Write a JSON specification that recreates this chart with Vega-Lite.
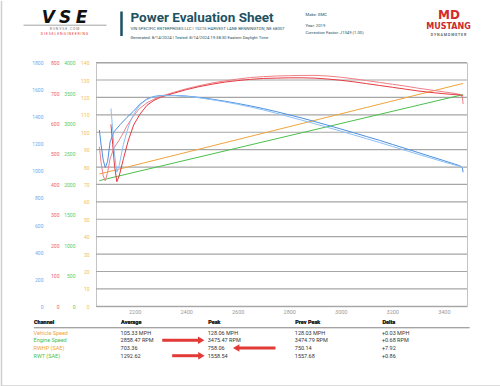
{
  "$schema": "https://vega.github.io/schema/vega-lite/v6.json",
  "padding": 0,
  "background": "white",
  "bounds": "flush",
  "spacing": 20.6,
  "config": {"font": "Roboto", "view": {"stroke": null}},
  "datasets": {
    "gridlines": [{"mph": 0}, {"mph": 10}, {"mph": 20}, {"mph": 30}, {"mph": 40}, {"mph": 50}, {"mph": 60}, {"mph": 70}, {"mph": 80}, {"mph": 90}, {"mph": 100}, {"mph": 110}, {"mph": 120}, {"mph": 130}, {"mph": 140}],
    "curves": [
      {"series": "Vehicle Speed", "rpm": 2063, "value": 76.0},
      {"series": "Vehicle Speed", "rpm": 3475, "value": 128.06},
      {"series": "Engine Speed", "rpm": 2063, "value": 2063},
      {"series": "Engine Speed", "rpm": 3475, "value": 3475},

      {"series": "RWHP", "rpm": 2063, "value": 524},
      {"series": "RWHP", "rpm": 2070, "value": 470},
      {"series": "RWHP", "rpm": 2078, "value": 428},
      {"series": "RWHP", "rpm": 2086, "value": 412},
      {"series": "RWHP", "rpm": 2095, "value": 440},
      {"series": "RWHP", "rpm": 2105, "value": 486},
      {"series": "RWHP", "rpm": 2120, "value": 520},
      {"series": "RWHP", "rpm": 2144, "value": 551},
      {"series": "RWHP", "rpm": 2170, "value": 592},
      {"series": "RWHP", "rpm": 2196, "value": 626},
      {"series": "RWHP", "rpm": 2220, "value": 650},
      {"series": "RWHP", "rpm": 2248, "value": 668},
      {"series": "RWHP", "rpm": 2275, "value": 680},
      {"series": "RWHP", "rpm": 2300, "value": 689},
      {"series": "RWHP", "rpm": 2350, "value": 702},
      {"series": "RWHP", "rpm": 2400, "value": 714},
      {"series": "RWHP", "rpm": 2450, "value": 724},
      {"series": "RWHP", "rpm": 2500, "value": 733},
      {"series": "RWHP", "rpm": 2550, "value": 740},
      {"series": "RWHP", "rpm": 2600, "value": 746},
      {"series": "RWHP", "rpm": 2650, "value": 751},
      {"series": "RWHP", "rpm": 2700, "value": 754},
      {"series": "RWHP", "rpm": 2750, "value": 756},
      {"series": "RWHP", "rpm": 2800, "value": 757},
      {"series": "RWHP", "rpm": 2850, "value": 758},
      {"series": "RWHP", "rpm": 2900, "value": 758},
      {"series": "RWHP", "rpm": 2950, "value": 756},
      {"series": "RWHP", "rpm": 3000, "value": 752},
      {"series": "RWHP", "rpm": 3050, "value": 747},
      {"series": "RWHP", "rpm": 3100, "value": 741},
      {"series": "RWHP", "rpm": 3150, "value": 735},
      {"series": "RWHP", "rpm": 3200, "value": 729},
      {"series": "RWHP", "rpm": 3250, "value": 723},
      {"series": "RWHP", "rpm": 3300, "value": 716},
      {"series": "RWHP", "rpm": 3350, "value": 710},
      {"series": "RWHP", "rpm": 3400, "value": 704},
      {"series": "RWHP", "rpm": 3440, "value": 699},
      {"series": "RWHP", "rpm": 3465, "value": 695},
      {"series": "RWHP", "rpm": 3472, "value": 686},
      {"series": "RWHP", "rpm": 3475, "value": 664},

      {"series": "RWHP prev", "rpm": 2108, "value": 597},
      {"series": "RWHP prev", "rpm": 2115, "value": 530},
      {"series": "RWHP prev", "rpm": 2122, "value": 460},
      {"series": "RWHP prev", "rpm": 2131, "value": 409},
      {"series": "RWHP prev", "rpm": 2140, "value": 428},
      {"series": "RWHP prev", "rpm": 2157, "value": 486},
      {"series": "RWHP prev", "rpm": 2175, "value": 543},
      {"series": "RWHP prev", "rpm": 2196, "value": 595},
      {"series": "RWHP prev", "rpm": 2220, "value": 630},
      {"series": "RWHP prev", "rpm": 2248, "value": 660},
      {"series": "RWHP prev", "rpm": 2275, "value": 676},
      {"series": "RWHP prev", "rpm": 2300, "value": 686},
      {"series": "RWHP prev", "rpm": 2350, "value": 699},
      {"series": "RWHP prev", "rpm": 2400, "value": 711},
      {"series": "RWHP prev", "rpm": 2450, "value": 721},
      {"series": "RWHP prev", "rpm": 2500, "value": 729},
      {"series": "RWHP prev", "rpm": 2550, "value": 736},
      {"series": "RWHP prev", "rpm": 2600, "value": 741},
      {"series": "RWHP prev", "rpm": 2650, "value": 745},
      {"series": "RWHP prev", "rpm": 2700, "value": 748},
      {"series": "RWHP prev", "rpm": 2750, "value": 749},
      {"series": "RWHP prev", "rpm": 2800, "value": 750},
      {"series": "RWHP prev", "rpm": 2850, "value": 750},
      {"series": "RWHP prev", "rpm": 2900, "value": 749},
      {"series": "RWHP prev", "rpm": 2950, "value": 746},
      {"series": "RWHP prev", "rpm": 3000, "value": 742},
      {"series": "RWHP prev", "rpm": 3050, "value": 737},
      {"series": "RWHP prev", "rpm": 3100, "value": 731},
      {"series": "RWHP prev", "rpm": 3150, "value": 725},
      {"series": "RWHP prev", "rpm": 3200, "value": 719},
      {"series": "RWHP prev", "rpm": 3250, "value": 713},
      {"series": "RWHP prev", "rpm": 3300, "value": 707},
      {"series": "RWHP prev", "rpm": 3350, "value": 702},
      {"series": "RWHP prev", "rpm": 3400, "value": 698},
      {"series": "RWHP prev", "rpm": 3440, "value": 695},
      {"series": "RWHP prev", "rpm": 3465, "value": 694},
      {"series": "RWHP prev", "rpm": 3475, "value": 690},

      {"series": "RWT", "rpm": 2063, "value": 1303},
      {"series": "RWT", "rpm": 2070, "value": 1190},
      {"series": "RWT", "rpm": 2078, "value": 1080},
      {"series": "RWT", "rpm": 2086, "value": 1024},
      {"series": "RWT", "rpm": 2095, "value": 1070},
      {"series": "RWT", "rpm": 2105, "value": 1216},
      {"series": "RWT", "rpm": 2120, "value": 1290},
      {"series": "RWT", "rpm": 2144, "value": 1342},
      {"series": "RWT", "rpm": 2170, "value": 1395},
      {"series": "RWT", "rpm": 2195, "value": 1440},
      {"series": "RWT", "rpm": 2220, "value": 1492},
      {"series": "RWT", "rpm": 2248, "value": 1532},
      {"series": "RWT", "rpm": 2275, "value": 1550},
      {"series": "RWT", "rpm": 2300, "value": 1557},
      {"series": "RWT", "rpm": 2350, "value": 1558},
      {"series": "RWT", "rpm": 2400, "value": 1553},
      {"series": "RWT", "rpm": 2450, "value": 1543},
      {"series": "RWT", "rpm": 2500, "value": 1530},
      {"series": "RWT", "rpm": 2550, "value": 1515},
      {"series": "RWT", "rpm": 2600, "value": 1498},
      {"series": "RWT", "rpm": 2650, "value": 1480},
      {"series": "RWT", "rpm": 2700, "value": 1460},
      {"series": "RWT", "rpm": 2750, "value": 1438},
      {"series": "RWT", "rpm": 2800, "value": 1414},
      {"series": "RWT", "rpm": 2850, "value": 1390},
      {"series": "RWT", "rpm": 2900, "value": 1364},
      {"series": "RWT", "rpm": 2950, "value": 1337},
      {"series": "RWT", "rpm": 3000, "value": 1310},
      {"series": "RWT", "rpm": 3050, "value": 1282},
      {"series": "RWT", "rpm": 3100, "value": 1254},
      {"series": "RWT", "rpm": 3150, "value": 1226},
      {"series": "RWT", "rpm": 3200, "value": 1196},
      {"series": "RWT", "rpm": 3250, "value": 1166},
      {"series": "RWT", "rpm": 3300, "value": 1136},
      {"series": "RWT", "rpm": 3350, "value": 1106},
      {"series": "RWT", "rpm": 3400, "value": 1076},
      {"series": "RWT", "rpm": 3440, "value": 1052},
      {"series": "RWT", "rpm": 3465, "value": 1036},
      {"series": "RWT", "rpm": 3472, "value": 1020},
      {"series": "RWT", "rpm": 3475, "value": 990},

      {"series": "RWT prev", "rpm": 2108, "value": 1462},
      {"series": "RWT prev", "rpm": 2115, "value": 1300},
      {"series": "RWT prev", "rpm": 2122, "value": 1120},
      {"series": "RWT prev", "rpm": 2131, "value": 990},
      {"series": "RWT prev", "rpm": 2140, "value": 1040},
      {"series": "RWT prev", "rpm": 2156, "value": 1194},
      {"series": "RWT prev", "rpm": 2170, "value": 1290},
      {"series": "RWT prev", "rpm": 2183, "value": 1364},
      {"series": "RWT prev", "rpm": 2200, "value": 1430},
      {"series": "RWT prev", "rpm": 2222, "value": 1490},
      {"series": "RWT prev", "rpm": 2245, "value": 1525},
      {"series": "RWT prev", "rpm": 2267, "value": 1544},
      {"series": "RWT prev", "rpm": 2300, "value": 1555},
      {"series": "RWT prev", "rpm": 2350, "value": 1557},
      {"series": "RWT prev", "rpm": 2400, "value": 1551},
      {"series": "RWT prev", "rpm": 2450, "value": 1540},
      {"series": "RWT prev", "rpm": 2500, "value": 1526},
      {"series": "RWT prev", "rpm": 2550, "value": 1510},
      {"series": "RWT prev", "rpm": 2600, "value": 1492},
      {"series": "RWT prev", "rpm": 2650, "value": 1472},
      {"series": "RWT prev", "rpm": 2700, "value": 1450},
      {"series": "RWT prev", "rpm": 2750, "value": 1426},
      {"series": "RWT prev", "rpm": 2800, "value": 1400},
      {"series": "RWT prev", "rpm": 2850, "value": 1374},
      {"series": "RWT prev", "rpm": 2900, "value": 1348},
      {"series": "RWT prev", "rpm": 2950, "value": 1321},
      {"series": "RWT prev", "rpm": 3000, "value": 1294},
      {"series": "RWT prev", "rpm": 3050, "value": 1266},
      {"series": "RWT prev", "rpm": 3100, "value": 1238},
      {"series": "RWT prev", "rpm": 3150, "value": 1210},
      {"series": "RWT prev", "rpm": 3200, "value": 1181},
      {"series": "RWT prev", "rpm": 3250, "value": 1152},
      {"series": "RWT prev", "rpm": 3300, "value": 1123},
      {"series": "RWT prev", "rpm": 3350, "value": 1095},
      {"series": "RWT prev", "rpm": 3400, "value": 1066},
      {"series": "RWT prev", "rpm": 3440, "value": 1045},
      {"series": "RWT prev", "rpm": 3465, "value": 1032},
      {"series": "RWT prev", "rpm": 3475, "value": 1022}
    ],
    "table": [
      {"channel": "Vehicle Speed", "Average": "105.33 MPH", "Peak": "128.06 MPH", "Prev Peak": "128.03 MPH", "Delta": "+0.03 MPH"},
      {"channel": "Engine Speed", "Average": "2858.47 RPM", "Peak": "3475.47 RPM", "Prev Peak": "3474.79 RPM", "Delta": "+0.68 RPM"},
      {"channel": "RWHP (SAE)", "Average": "703.36", "Peak": "758.06", "Prev Peak": "750.14", "Delta": "+7.92"},
      {"channel": "RWT (SAE)", "Average": "1292.62", "Peak": "1558.54", "Prev Peak": "1557.68", "Delta": "+0.86"}
    ],
    "arrows": [
      {"channel": "Engine Speed", "tail": 1.478, "tip": 1.925, "dir": "right"},
      {"channel": "RWHP (SAE)", "tail": 2.778, "tip": 2.327, "dir": "left"},
      {"channel": "RWT (SAE)", "tail": 1.592, "tip": 1.928, "dir": "right"}
    ]
  },
  "vconcat": [
    {
      "width": 371,
      "height": 40.4,
      "view": {"stroke": null},
      "layer": [
        {"data": {"values": [{}]}, "mark": {"type": "rule", "color": "#cfcfcf", "strokeWidth": 1.5},
         "encoding": {"x": {"datum": 1, "type": "quantitative", "scale": {"domain": [0, 500], "range": [-95.5, 404.5]}, "axis": null},
                      "y": {"datum": 0, "type": "quantitative", "scale": {"domain": [0, 40.4], "range": [0, 40.4]}, "axis": null},
                      "y2": {"datum": 386}}},
        {"data": {"values": [{}]}, "mark": {"type": "rule", "color": "#cfcfcf", "strokeWidth": 1.5},
         "encoding": {"x": {"datum": 1, "type": "quantitative", "scale": {"domain": [0, 500], "range": [-95.5, 404.5]}, "axis": null},
                      "x2": {"datum": 500},
                      "y": {"datum": 385, "type": "quantitative", "scale": {"domain": [0, 40.4], "range": [0, 40.4]}, "axis": null}}},
        {"data": {"values": [{"t": "V"}, {"t": "S"}, {"t": "E"}]},
         "mark": {"type": "text", "fontSize": 17, "fontWeight": "bold", "fontStyle": "italic", "font": "DejaVu Sans", "color": "#111111", "baseline": "bottom", "align": "center"},
         "encoding": {"text": {"field": "t"},
                      "x": {"field": "t", "type": "nominal", "scale": {"type": "point", "domain": ["V", "S", "E"], "range": [-56, -6]}, "axis": null},
                      "y": {"datum": 26.2, "type": "quantitative", "scale": {"domain": [0, 40.4], "range": [0, 40.4]}, "axis": null}}},
        {"data": {"values": [{}]}, "mark": {"type": "rule", "color": "#8a8a8a", "strokeWidth": 0.8},
         "encoding": {"x": {"datum": 23, "type": "quantitative", "scale": {"domain": [0, 500], "range": [-95.5, 404.5]}, "axis": null},
                      "x2": {"datum": 106},
                      "y": {"datum": 24.2, "type": "quantitative", "scale": {"domain": [0, 40.4], "range": [0, 40.4]}, "axis": null}}},
        {"data": {"values": [{"t": "R U N V S E . C O M"}]},
         "mark": {"type": "text", "fontSize": 3.5, "color": "#777777", "baseline": "middle", "align": "center"},
         "encoding": {"text": {"field": "t"},
                      "x": {"datum": 64, "type": "quantitative", "scale": {"domain": [0, 500], "range": [-95.5, 404.5]}, "axis": null},
                      "y": {"datum": 28.3, "type": "quantitative", "scale": {"domain": [0, 40.4], "range": [0, 40.4]}, "axis": null}}},
        {"data": {"values": [{"t": "D I E S E L   E N G I N E E R I N G"}]},
         "mark": {"type": "text", "fontSize": 3.5, "color": "#e8403a", "baseline": "middle", "align": "center"},
         "encoding": {"text": {"field": "t"},
                      "x": {"datum": 64, "type": "quantitative", "scale": {"domain": [0, 500], "range": [-95.5, 404.5]}, "axis": null},
                      "y": {"datum": 32.6, "type": "quantitative", "scale": {"domain": [0, 40.4], "range": [0, 40.4]}, "axis": null}}},
        {"data": {"values": [{}]}, "mark": {"type": "rule", "color": "#1d5262", "strokeWidth": 2.5},
         "encoding": {"x": {"datum": 121, "type": "quantitative", "scale": {"domain": [0, 500], "range": [-95.5, 404.5]}, "axis": null},
                      "y": {"datum": 10.5, "type": "quantitative", "scale": {"domain": [0, 40.4], "range": [0, 40.4]}, "axis": null},
                      "y2": {"datum": 35}}},
        {"data": {"values": [{"t": "Power Evaluation Sheet"}]},
         "mark": {"type": "text", "fontSize": 13.5, "fontWeight": "bold", "color": "#1d5262", "baseline": "alphabetic", "align": "left"},
         "encoding": {"text": {"field": "t"},
                      "x": {"datum": 130, "type": "quantitative", "scale": {"domain": [0, 500], "range": [-95.5, 404.5]}, "axis": null},
                      "y": {"datum": 20.8, "type": "quantitative", "scale": {"domain": [0, 40.4], "range": [0, 40.4]}, "axis": null}}},
        {"data": {"values": [{"t": "VIN SPECIFIC ENTERPRISES LLC | 15215 HARVEST LANE BENNINGTON, NE 68007"}]},
         "mark": {"type": "text", "fontSize": 4.2, "color": "#1d5262", "baseline": "middle", "align": "left"},
         "encoding": {"text": {"field": "t"},
                      "x": {"datum": 130, "type": "quantitative", "scale": {"domain": [0, 500], "range": [-95.5, 404.5]}, "axis": null},
                      "y": {"datum": 28.3, "type": "quantitative", "scale": {"domain": [0, 40.4], "range": [0, 40.4]}, "axis": null}}},
        {"data": {"values": [{"t": "Generated: 8/14/2024 | Tested: 8/14/2024 19:38:30 Eastern Daylight Time"}]},
         "mark": {"type": "text", "fontSize": 4.2, "color": "#1d5262", "baseline": "middle", "align": "left"},
         "encoding": {"text": {"field": "t"},
                      "x": {"datum": 130, "type": "quantitative", "scale": {"domain": [0, 500], "range": [-95.5, 404.5]}, "axis": null},
                      "y": {"datum": 36.7, "type": "quantitative", "scale": {"domain": [0, 40.4], "range": [0, 40.4]}, "axis": null}}},
        {"data": {"values": [{"t": "Make: GMC"}]},
         "mark": {"type": "text", "fontSize": 4.2, "color": "#1d5262", "baseline": "middle", "align": "left"},
         "encoding": {"text": {"field": "t"},
                      "x": {"datum": 305, "type": "quantitative", "scale": {"domain": [0, 500], "range": [-95.5, 404.5]}, "axis": null},
                      "y": {"datum": 14, "type": "quantitative", "scale": {"domain": [0, 40.4], "range": [0, 40.4]}, "axis": null}}},
        {"data": {"values": [{"t": "Year: 2019"}]},
         "mark": {"type": "text", "fontSize": 4.2, "color": "#1d5262", "baseline": "middle", "align": "left"},
         "encoding": {"text": {"field": "t"},
                      "x": {"datum": 305, "type": "quantitative", "scale": {"domain": [0, 500], "range": [-95.5, 404.5]}, "axis": null},
                      "y": {"datum": 24.8, "type": "quantitative", "scale": {"domain": [0, 40.4], "range": [0, 40.4]}, "axis": null}}},
        {"data": {"values": [{"t": "Correction Factor: J1349 (1.00)"}]},
         "mark": {"type": "text", "fontSize": 4.2, "color": "#1d5262", "baseline": "middle", "align": "left"},
         "encoding": {"text": {"field": "t"},
                      "x": {"datum": 305, "type": "quantitative", "scale": {"domain": [0, 500], "range": [-95.5, 404.5]}, "axis": null},
                      "y": {"datum": 31.8, "type": "quantitative", "scale": {"domain": [0, 40.4], "range": [0, 40.4]}, "axis": null}}},
        {"data": {"values": [{"t": "MD"}]},
         "mark": {"type": "text", "fontSize": 12, "fontWeight": "bold", "font": "DejaVu Sans", "color": "#d42a2a", "baseline": "bottom", "align": "center"},
         "encoding": {"text": {"field": "t"},
                      "x": {"datum": 448.5, "type": "quantitative", "scale": {"domain": [0, 500], "range": [-95.5, 404.5]}, "axis": null},
                      "y": {"datum": 20.6, "type": "quantitative", "scale": {"domain": [0, 40.4], "range": [0, 40.4]}, "axis": null}}},
        {"data": {"values": [{"t": "MUSTANG"}]},
         "mark": {"type": "text", "fontSize": 8, "fontWeight": "bold", "font": "DejaVu Sans", "color": "#cc2a2a", "baseline": "top", "align": "center"},
         "encoding": {"text": {"field": "t"},
                      "x": {"datum": 448, "type": "quantitative", "scale": {"domain": [0, 500], "range": [-95.5, 404.5]}, "axis": null},
                      "y": {"datum": 22.4, "type": "quantitative", "scale": {"domain": [0, 40.4], "range": [0, 40.4]}, "axis": null}}},
        {"data": {"values": [{"t": "D Y N A M O M E T E R"}]},
         "mark": {"type": "text", "fontSize": 3.6, "fontWeight": "bold", "color": "#666666", "baseline": "middle", "align": "center"},
         "encoding": {"text": {"field": "t"},
                      "x": {"datum": 448, "type": "quantitative", "scale": {"domain": [0, 500], "range": [-95.5, 404.5]}, "axis": null},
                      "y": {"datum": 34, "type": "quantitative", "scale": {"domain": [0, 40.4], "range": [0, 40.4]}, "axis": null}}}
      ]
    },
    {
      "width": 371,
      "height": 243.7,
      "view": {"stroke": "#c4c4c4", "strokeWidth": 1},
      "layer": [
        {
          "data": {"name": "gridlines"},
          "mark": {"type": "rule", "color": "#a6a6a6", "strokeWidth": 1.2},
          "encoding": {
            "x": {"datum": 2050, "type": "quantitative", "scale": {"domain": [2050, 3490], "nice": false, "zero": false}},
            "x2": {"datum": 3490},
            "y": {"field": "mph", "type": "quantitative", "scale": {"domain": [0, 140], "nice": false}, "axis": null}
          }
        },
        {
          "data": {"name": "curves"},
          "transform": [{"filter": "datum.series == 'Vehicle Speed'"}],
          "mark": {"type": "line", "strokeWidth": 1},
          "encoding": {
            "x": {"field": "rpm", "type": "quantitative", "scale": {"domain": [2050, 3490], "nice": false, "zero": false},
                  "axis": {"values": [2200, 2400, 2600, 2800, 3000, 3200, 3400], "format": "d", "grid": false, "domain": false, "ticks": false, "tickSize": 0, "labelFontSize": 5.5, "labelColor": "#9a9a9a", "labelPadding": 3.5, "labelFlush": false, "title": null}},
            "y": {"field": "value", "type": "quantitative", "scale": {"domain": [0, 140], "nice": false},
                  "axis": {"orient": "left", "offset": 7, "values": [0, 10, 20, 30, 40, 50, 60, 70, 80, 90, 100, 110, 120, 130, 140], "format": "d", "grid": false, "domain": false, "ticks": false, "tickSize": 0, "labelPadding": 0, "labelFontSize": 5, "labelColor": "#f5bc55", "labelFlush": false, "labelOverlap": false, "title": null}},
            "color": {"field": "series", "type": "nominal", "legend": null,
                      "scale": {"domain": ["Vehicle Speed", "Engine Speed", "RWHP", "RWHP prev", "RWT", "RWT prev"], "range": ["#f0a53a", "#4cbf4c", "#f07f86", "#e63a42", "#4a8fe2", "#8cc0f4"]}}
          }
        },
        {
          "data": {"name": "curves"},
          "transform": [{"filter": "datum.series == 'Engine Speed'"}],
          "mark": {"type": "line", "strokeWidth": 1},
          "encoding": {
            "x": {"field": "rpm", "type": "quantitative", "scale": {"domain": [2050, 3490], "nice": false, "zero": false}},
            "y": {"field": "value", "type": "quantitative", "scale": {"domain": [0, 4000], "nice": false},
                  "axis": {"orient": "left", "offset": 21, "values": [0, 500, 1000, 1500, 2000, 2500, 3000, 3500, 4000], "format": "d", "grid": false, "domain": false, "ticks": false, "tickSize": 0, "labelPadding": 0, "labelFontSize": 5, "labelColor": "#5ccc5c", "labelFlush": false, "labelOverlap": false, "title": null}},
            "color": {"field": "series", "type": "nominal", "legend": null,
                      "scale": {"domain": ["Vehicle Speed", "Engine Speed", "RWHP", "RWHP prev", "RWT", "RWT prev"], "range": ["#f0a53a", "#4cbf4c", "#f07f86", "#e63a42", "#4a8fe2", "#8cc0f4"]}}
          }
        },
        {
          "data": {"name": "curves"},
          "transform": [{"filter": "datum.series == 'RWHP' || datum.series == 'RWHP prev'"}],
          "mark": {"type": "line", "strokeWidth": 1},
          "encoding": {
            "x": {"field": "rpm", "type": "quantitative", "scale": {"domain": [2050, 3490], "nice": false, "zero": false}},
            "y": {"field": "value", "type": "quantitative", "scale": {"domain": [0, 800], "nice": false},
                  "axis": {"orient": "left", "offset": 37, "values": [0, 100, 200, 300, 400, 500, 600, 700, 800], "format": "d", "grid": false, "domain": false, "ticks": false, "tickSize": 0, "labelPadding": 0, "labelFontSize": 5, "labelColor": "#f06262", "labelFlush": false, "labelOverlap": false, "title": null}},
            "color": {"field": "series", "type": "nominal", "legend": null,
                      "scale": {"domain": ["Vehicle Speed", "Engine Speed", "RWHP", "RWHP prev", "RWT", "RWT prev"], "range": ["#f0a53a", "#4cbf4c", "#f07f86", "#e63a42", "#4a8fe2", "#8cc0f4"]}}
          }
        },
        {
          "data": {"name": "curves"},
          "transform": [{"filter": "datum.series == 'RWT' || datum.series == 'RWT prev'"}],
          "mark": {"type": "line", "strokeWidth": 1},
          "encoding": {
            "x": {"field": "rpm", "type": "quantitative", "scale": {"domain": [2050, 3490], "nice": false, "zero": false}},
            "y": {"field": "value", "type": "quantitative", "scale": {"domain": [0, 1800], "nice": false},
                  "axis": {"orient": "left", "offset": 53, "values": [0, 200, 400, 600, 800, 1000, 1200, 1400, 1600, 1800], "format": "d", "grid": false, "domain": false, "ticks": false, "tickSize": 0, "labelPadding": 0, "labelFontSize": 5, "labelColor": "#6ea8f2", "labelFlush": false, "labelOverlap": false, "title": null}},
            "color": {"field": "series", "type": "nominal", "legend": null,
                      "scale": {"domain": ["Vehicle Speed", "Engine Speed", "RWHP", "RWHP prev", "RWT", "RWT prev"], "range": ["#f0a53a", "#4cbf4c", "#f07f86", "#e63a42", "#4a8fe2", "#8cc0f4"]}}
          }
        }
      ],
      "resolve": {"scale": {"y": "independent"}}
    },
    {
      "width": 371,
      "height": 33.9,
      "view": {"stroke": null},
      "layer": [
        {
          "data": {"name": "table"},
          "transform": [{"fold": ["Average", "Peak", "Prev Peak", "Delta"], "as": ["column", "cell"]}],
          "mark": {"type": "text", "align": "left", "baseline": "middle", "fontSize": 5.5, "color": "#333333"},
          "encoding": {
            "x": {"field": "column", "type": "nominal",
                  "scale": {"type": "point", "domain": ["Channel", "Average", "Peak", "Prev Peak", "Delta", "end"], "range": [-62.5, 373], "padding": 0},
                  "axis": {"orient": "top", "values": ["Channel", "Average", "Peak", "Prev Peak", "Delta"], "title": null, "ticks": false, "tickSize": 0, "domain": true, "domainColor": "#a0a0a0", "domainWidth": 1, "labelAngle": 0, "labelAlign": "left", "labelFontWeight": "bold", "labelFontSize": 5.5, "labelColor": "#222222", "labelPadding": 3, "labelOverlap": false, "labelFlush": false}},
            "y": {"field": "channel", "type": "nominal", "scale": {"type": "point", "domain": ["Vehicle Speed", "Engine Speed", "RWHP (SAE)", "RWT (SAE)"], "padding": 0.7}, "axis": null},
            "text": {"field": "cell"}
          }
        },
        {
          "data": {"name": "table"},
          "mark": {"type": "text", "align": "left", "baseline": "middle", "fontSize": 5.5},
          "encoding": {
            "x": {"datum": "Channel", "type": "nominal",
                  "scale": {"type": "point", "domain": ["Channel", "Average", "Peak", "Prev Peak", "Delta", "end"], "range": [-62.5, 373], "padding": 0},
                  "axis": {"orient": "top", "values": ["Channel", "Average", "Peak", "Prev Peak", "Delta"], "title": null, "ticks": false, "tickSize": 0, "domain": true, "domainColor": "#a0a0a0", "domainWidth": 1, "labelAngle": 0, "labelAlign": "left", "labelFontWeight": "bold", "labelFontSize": 5.5, "labelColor": "#222222", "labelPadding": 3, "labelOverlap": false, "labelFlush": false}},
            "y": {"field": "channel", "type": "nominal", "scale": {"type": "point", "domain": ["Vehicle Speed", "Engine Speed", "RWHP (SAE)", "RWT (SAE)"], "padding": 0.7}, "axis": null},
            "text": {"field": "channel"},
            "color": {"field": "channel", "type": "nominal", "legend": null,
                      "scale": {"domain": ["Vehicle Speed", "Engine Speed", "RWHP (SAE)", "RWT (SAE)"], "range": ["#f5a623", "#2fc72f", "#ff3434", "#3a8cff"]}}
          }
        },
        {
          "data": {"name": "arrows"},
          "layer": [
            {
              "mark": {"type": "rule", "color": "#e23a36", "strokeWidth": 3},
              "encoding": {
                "x": {"field": "tail", "type": "quantitative", "scale": {"domain": [0, 5], "range": [-62.5, 373]}, "axis": null},
                "x2": {"field": "tip"},
                "y": {"field": "channel", "type": "nominal", "scale": {"type": "point", "domain": ["Vehicle Speed", "Engine Speed", "RWHP (SAE)", "RWT (SAE)"], "padding": 0.7}, "axis": null}
              }
            },
            {
              "mark": {"type": "point", "filled": true, "opacity": 1, "color": "#e23a36", "size": 55},
              "encoding": {
                "x": {"field": "tip", "type": "quantitative", "scale": {"domain": [0, 5], "range": [-62.5, 373]}, "axis": null},
                "y": {"field": "channel", "type": "nominal", "scale": {"type": "point", "domain": ["Vehicle Speed", "Engine Speed", "RWHP (SAE)", "RWT (SAE)"], "padding": 0.7}, "axis": null},
                "shape": {"field": "dir", "type": "nominal", "legend": null, "scale": {"domain": ["right", "left"], "range": ["triangle-right", "triangle-left"]}}
              }
            }
          ]
        }
      ],
      "resolve": {"scale": {"x": "independent"}}
    }
  ]
}
